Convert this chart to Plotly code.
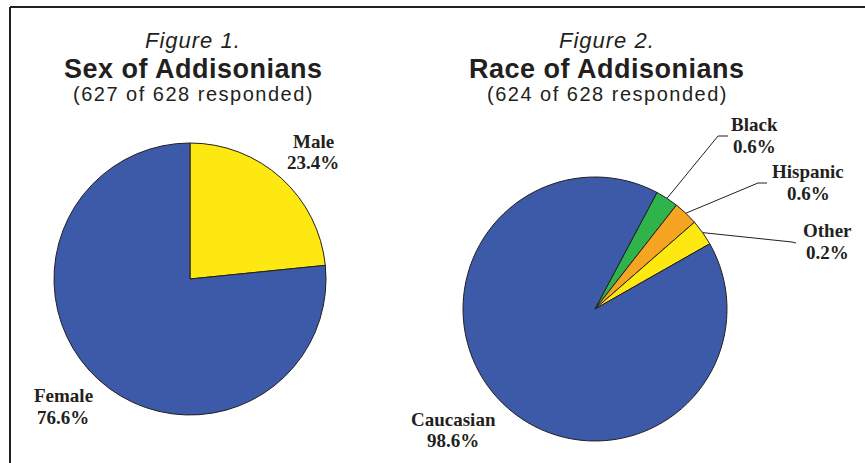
import math
import plotly.graph_objects as go

W, H = 865, 463

# Figure 1 data
sex_labels = ["Male", "Female"]
sex_pct = [23.4, 76.6]

# Figure 2 data: reported shares, and the slice sizes the original artwork draws
race_labels = ["Black", "Hispanic", "Other", "Caucasian"]
race_pct = [0.6, 0.6, 0.2, 98.6]
race_drawn = [2.8, 3.0, 3.2, 91.0]

BLUE = "#3c5aa8"
YELLOW = "#fde812"
GREEN = "#2fb34b"
ORANGE = "#f6a522"
INK = "#231f20"

sex_colors = [YELLOW, BLUE]
race_colors = [GREEN, ORANGE, YELLOW, BLUE]

# pie geometry in pixels (centre x, centre y, radius) and start angle
LEFT_PIE = (190, 279, 136)
RIGHT_PIE = (595, 309, 132)
RACE_ROTATION = 28

# label placement in pixels: centre x, name line y, percent line y
sex_label_pos = {"Male": (313, 141, 162), "Female": (63, 395, 417)}
race_label_pos = {
    "Black": (754, 125, 146),
    "Hispanic": (808, 172, 193),
    "Other": (827, 231, 252),
    "Caucasian": (453, 419, 440),
}
# leader line elbow and end for the small slices
race_leaders = {
    "Black": ((718, 136), (728, 136)),
    "Hispanic": ((758, 183), (767, 183)),
    "Other": ((792, 242), (796, 243)),
}


def px(x):
    return x / W


def py(y):
    return 1 - y / H


def pie_domain(pie):
    cx, cy, r = pie
    return dict(x=[px(cx - r), px(cx + r)], y=[py(cy + r), py(cy - r)])


fig = go.Figure()
fig.add_trace(
    go.Pie(
        labels=sex_labels,
        values=sex_pct,
        sort=False,
        direction="clockwise",
        rotation=0,
        marker=dict(colors=sex_colors, line=dict(color=INK, width=1)),
        textinfo="none",
        showlegend=False,
        domain=pie_domain(LEFT_PIE),
    )
)
fig.add_trace(
    go.Pie(
        labels=race_labels,
        values=race_drawn,
        customdata=race_pct,
        sort=False,
        direction="clockwise",
        rotation=RACE_ROTATION,
        marker=dict(colors=race_colors, line=dict(color=INK, width=1)),
        textinfo="none",
        hovertemplate="%{label}: %{customdata}%<extra></extra>",
        showlegend=False,
        domain=pie_domain(RIGHT_PIE),
    )
)

annotations = []
title_font = "Liberation Sans, Arial, sans-serif"
label_font = dict(family="Liberation Serif, serif", size=19, color=INK)


def spaced(text, gap):
    return f"<span style='letter-spacing:{gap}px'>{text}</span>"


def add_titles(cx, fig_no, title, sub):
    annotations.append(dict(
        x=px(cx), y=py(41), text=f"<i>{spaced(f'Figure {fig_no}.', 1)}</i>",
        font=dict(family=title_font, size=22, color=INK)))
    annotations.append(dict(
        x=px(cx), y=py(69), text=f"<b>{spaced(title, 0.5)}</b>",
        font=dict(family=title_font, size=27, color=INK)))
    annotations.append(dict(
        x=px(cx), y=py(94), text=spaced(sub, 1.5),
        font=dict(family=title_font, size=20, color=INK)))


add_titles(193, 1, "Sex of Addisonians", "(627 of 628 responded)")
add_titles(607, 2, "Race of Addisonians", "(624 of 628 responded)")

for lab, val in zip(sex_labels, sex_pct):
    cx, y1, y2 = sex_label_pos[lab]
    annotations.append(dict(x=px(cx), y=py(y1), text=f"<b>{lab}</b>", font=label_font))
    annotations.append(dict(x=px(cx), y=py(y2), text=f"<b>{val}%</b>", font=label_font))

for lab, val in zip(race_labels, race_pct):
    cx, y1, y2 = race_label_pos[lab]
    annotations.append(dict(x=px(cx), y=py(y1), text=f"<b>{lab}</b>", font=label_font))
    annotations.append(dict(x=px(cx), y=py(y2), text=f"<b>{val}%</b>", font=label_font))

for a in annotations:
    a.update(xref="paper", yref="paper", showarrow=False,
             xanchor="center", yanchor="middle", borderpad=0)

# leader lines start on the rim at the middle of each small slice
shapes = []
cx, cy, r = RIGHT_PIE
total = sum(race_drawn)
start = RACE_ROTATION
for lab, v in zip(race_labels, race_drawn):
    span = v / total * 360
    mid = math.radians(start + span / 2)
    start += span
    if lab not in race_leaders:
        continue
    x0, y0 = cx + r * math.sin(mid), cy - r * math.cos(mid)
    (ex, ey), (tx, ty) = race_leaders[lab]
    path = f"M {px(x0)},{py(y0)} L {px(ex)},{py(ey)} L {px(tx)},{py(ty)}"
    shapes.append(dict(type="path", xref="paper", yref="paper", path=path,
                       line=dict(color=INK, width=1)))

# page frame (top and left rule)
shapes.append(dict(type="line", xref="paper", yref="paper",
                   x0=px(10), y0=py(7), x1=1, y1=py(7),
                   line=dict(color=INK, width=2)))
shapes.append(dict(type="line", xref="paper", yref="paper",
                   x0=px(10), y0=py(7), x1=px(10), y1=0,
                   line=dict(color=INK, width=2)))

fig.update_layout(
    width=W,
    height=H,
    margin=dict(l=0, r=0, t=0, b=0),
    paper_bgcolor="white",
    plot_bgcolor="white",
    annotations=annotations,
    shapes=shapes,
)

# drop the default body margin so the figure sits at the page origin
fig.write_html(
    "out.html",
    config={"displayModeBar": False},
    post_script="document.body.style.margin='0';",
)
